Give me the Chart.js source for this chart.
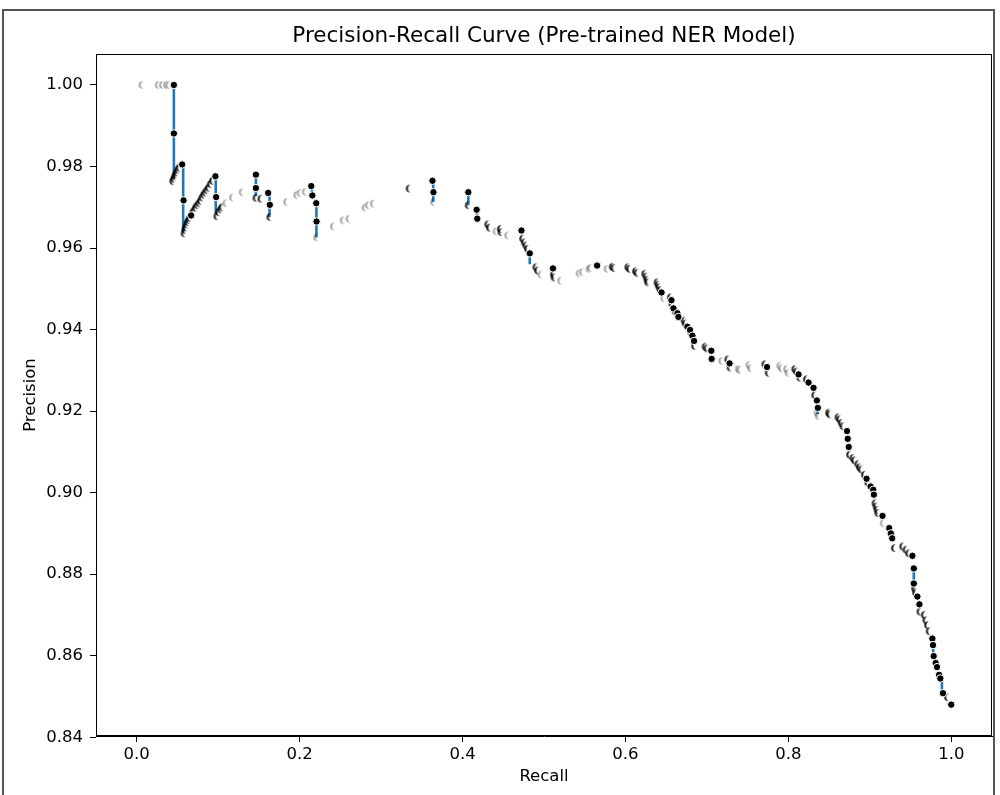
<!DOCTYPE html>
<html>
<head>
<meta charset="utf-8">
<script src="https://cdn.jsdelivr.net/npm/chart.js"></script>
<style>
  body { margin: 0; background: #fff; }
  #wrap { position: absolute; left: 0; top: 0; width: 1000px; height: 795px; }
  #frame { position: absolute; left: 2px; top: 9px; width: 993px; height: 800px; border: 2px solid #555; box-sizing: border-box; pointer-events: none; }
</style>
</head>
<body>
<div id="wrap">
  <canvas id="myChart" width="1000" height="795"></canvas>
  <div id="frame"></div>
</div>

<script>
// ticks
const recallTicks = [0.0, 0.2, 0.4, 0.6, 0.8, 1.0];
const precisionTicks = [0.84, 0.86, 0.88, 0.90, 0.92, 0.94, 0.96, 0.98, 1.00];

// fully visible points
const solidRecall = [0.0456, 0.0456, 0.0558, 0.0575, 0.0668, 0.0966, 0.0975, 0.1463, 0.1463, 0.1614,
  0.1634, 0.2143, 0.2156, 0.2204, 0.2208, 0.3631, 0.3643, 0.4071, 0.4173, 0.4181,
  0.4723, 0.4825, 0.5110, 0.5652, 0.6443, 0.6565, 0.6589, 0.6638, 0.6650, 0.6760,
  0.6793, 0.6822, 0.6842, 0.7054, 0.7058, 0.7278, 0.7738, 0.8125, 0.8248, 0.8309,
  0.8350, 0.8362, 0.8720, 0.8729, 0.8741, 0.8960, 0.9010, 0.9042, 0.9050, 0.9156,
  0.9238, 0.9258, 0.9275, 0.9523, 0.9540, 0.9540, 0.9584, 0.9609, 0.9768, 0.9776,
  0.9784, 0.9808, 0.9825, 0.9850, 0.9866, 0.9898, 1.0000];
const solidPrecision = [1.0000, 0.9881, 0.9805, 0.9717, 0.9680, 0.9776, 0.9725, 0.9780, 0.9747, 0.9735,
  0.9706, 0.9752, 0.9729, 0.9710, 0.9665, 0.9765, 0.9737, 0.9737, 0.9694, 0.9672,
  0.9643, 0.9587, 0.9550, 0.9557, 0.9491, 0.9472, 0.9452, 0.9440, 0.9431, 0.9407,
  0.9399, 0.9385, 0.9372, 0.9348, 0.9328, 0.9317, 0.9308, 0.9290, 0.9270, 0.9257,
  0.9226, 0.9208, 0.9151, 0.9132, 0.9112, 0.9034, 0.9015, 0.9007, 0.8995, 0.8943,
  0.8913, 0.8900, 0.8888, 0.8845, 0.8814, 0.8777, 0.8745, 0.8726, 0.8642, 0.8626,
  0.8599, 0.8582, 0.8572, 0.8553, 0.8544, 0.8508, 0.8480];

// points mostly hidden by the next marker (dark crescents)
const halfRecall = [0.0448, 0.0460, 0.0472, 0.0484, 0.0496, 0.0510, 0.0525,
  0.0587, 0.0597, 0.0607, 0.0618, 0.0630, 0.0643, 0.0655,
  0.0690, 0.0708, 0.0727, 0.0748, 0.0770, 0.0788, 0.0806, 0.0826, 0.0846, 0.0866, 0.0886, 0.0910, 0.0935,
  0.0990, 0.1010, 0.1035, 0.1052, 0.1470, 0.1530, 0.1640, 0.3350, 0.4075,
  0.4315, 0.4336, 0.4470, 0.4478, 0.4743, 0.4764, 0.4784, 0.4804, 0.4906, 0.4927,
  0.5122, 0.5130, 0.5844, 0.5864, 0.6035, 0.6055, 0.6129, 0.6149,
  0.6243, 0.6259, 0.6271, 0.6280, 0.6394, 0.6406, 0.6418, 0.6434,
  0.6557, 0.6577, 0.6618, 0.6727, 0.6740, 0.6809, 0.6854, 0.6984, 0.7005,
  0.7262, 0.7290, 0.7718, 0.7759, 0.8084, 0.8105, 0.8146, 0.8227, 0.8330,
  0.8500, 0.8513, 0.8615, 0.8635, 0.8655, 0.8676,
  0.8757, 0.8798, 0.8818, 0.8859, 0.8879, 0.8900, 0.8940, 0.8980,
  0.9070, 0.9083, 0.9095, 0.9104, 0.9307, 0.9409, 0.9450, 0.9483,
  0.9555, 0.9567, 0.9621, 0.9674, 0.9694, 0.9715, 0.9735, 0.9959];
const halfPrecision = [0.9764, 0.9770, 0.9776, 0.9781, 0.9786, 0.9792, 0.9797,
  0.9636, 0.9644, 0.9651, 0.9658, 0.9664, 0.9669, 0.9674,
  0.9686, 0.9692, 0.9699, 0.9705, 0.9710, 0.9716, 0.9724, 0.9731, 0.9736, 0.9742, 0.9748, 0.9757, 0.9765,
  0.9678, 0.9688, 0.9695, 0.9700, 0.9723, 0.9721, 0.9676, 0.9746, 0.9705,
  0.9658, 0.9650, 0.9647, 0.9639, 0.9623, 0.9614, 0.9606, 0.9598, 0.9553, 0.9545,
  0.9535, 0.9528, 0.9554, 0.9551, 0.9553, 0.9549, 0.9543, 0.9539,
  0.9537, 0.9530, 0.9522, 0.9516, 0.9516, 0.9510, 0.9504, 0.9497,
  0.9479, 0.9463, 0.9444, 0.9422, 0.9415, 0.9393, 0.9360, 0.9358, 0.9354,
  0.9327, 0.9307, 0.9315, 0.9294, 0.9303, 0.9297, 0.9282, 0.9278, 0.9239,
  0.9196, 0.9192, 0.9185, 0.9180, 0.9171, 0.9163,
  0.9093, 0.9085, 0.9079, 0.9070, 0.9062, 0.9057, 0.9044, 0.9025,
  0.8974, 0.8966, 0.8958, 0.8950, 0.8864, 0.8868, 0.8860, 0.8851,
  0.8765, 0.8755, 0.8708, 0.8700, 0.8687, 0.8675, 0.8660, 0.8498];

// points almost completely hidden (faint slivers)
const faintRecall = [0.007, 0.027, 0.032, 0.037, 0.040, 0.1100, 0.1180, 0.1300,
  0.1846, 0.1970, 0.2010, 0.2075, 0.2215, 0.2420, 0.2540, 0.2612, 0.2808, 0.2848, 0.2910,
  0.3650, 0.4417, 0.4560, 0.4968, 0.5210, 0.5436, 0.5477, 0.5558, 0.5578, 0.5780,
  0.6475, 0.7188, 0.7392, 0.7412, 0.7522, 0.7543, 0.7900, 0.7922, 0.7983, 0.8003,
  0.8360, 0.8372, 0.9170];
const faintPrecision = [1.000, 1.000, 1.000, 1.000, 1.000, 0.9710, 0.9724, 0.9737,
  0.9713, 0.9730, 0.9735, 0.9738, 0.9626, 0.9653, 0.9668, 0.9672, 0.9699, 0.9705, 0.9709,
  0.9713, 0.9641, 0.9631, 0.9535, 0.9520, 0.9538, 0.9541, 0.9549, 0.9551, 0.9549,
  0.9477, 0.9323, 0.9303, 0.9301, 0.9313, 0.9305, 0.9311, 0.9305, 0.9303, 0.9294,
  0.9196, 0.9188, 0.8925];

// vertical drops where the line shows
const stepRecall = [0.0456, 0.0570, 0.0970, 0.1463, 0.1630, 0.2150, 0.2206, 0.3640, 0.4071, 0.4178, 0.4825, 0.8360, 0.9540, 0.9778, 0.9885];
const stepTop    = [1.0000, 0.9805, 0.9776, 0.9780, 0.9735, 0.9752, 0.9712, 0.9765, 0.9737, 0.9694, 0.9587, 0.9208, 0.8814, 0.8640, 0.8544];
const stepBottom = [0.9770, 0.9640, 0.9685, 0.9727, 0.9676, 0.9729, 0.9626, 0.9713, 0.9705, 0.9672, 0.9560, 0.9192, 0.8765, 0.8600, 0.8508];

function pts(xs, ys) { return xs.map((x, i) => ({x: x, y: ys[i]})); }

const stepData = [];
stepRecall.forEach((r, i) => {
  stepData.push({x: r, y: stepTop[i]});
  stepData.push({x: r, y: stepBottom[i]});
  stepData.push({x: r, y: null});
});

// crescent marker: a black dot with its right part covered
function crescent(offset, alpha) {
  const c = document.createElement('canvas');
  c.width = 14; c.height = 14;
  const g = c.getContext('2d');
  g.globalAlpha = alpha;
  g.fillStyle = '#000';
  g.beginPath(); g.arc(7, 7, 3.8, 0, Math.PI * 2); g.fill();
  g.globalAlpha = 1;
  g.globalCompositeOperation = 'destination-out';
  g.beginPath(); g.arc(7 + offset, 7, 4.3, 0, Math.PI * 2); g.fill();
  return c;
}

const font = 'DejaVu Sans';

const frameBox = {
  id: 'frameBox',
  afterDatasetsDraw(chart) {
    const a = chart.chartArea, ctx = chart.ctx;
    ctx.save();
    ctx.strokeStyle = '#000';
    ctx.lineWidth = 1;
    ctx.strokeRect(Math.round(a.left) + 0.5, Math.round(a.top) + 0.5, Math.round(a.right - a.left) - 1, Math.round(a.bottom - a.top) - 1);
    ctx.restore();
  }
};

const config = {
  type: 'scatter',
  data: {
    datasets: [
      { data: stepData, showLine: true, spanGaps: false, borderColor: '#1f77b4', borderWidth: 2.6, pointRadius: 0, order: 4 },
      { data: pts(faintRecall, faintPrecision), pointStyle: crescent(2.6, 0.35), pointRadius: 7, order: 3 },
      { data: pts(halfRecall, halfPrecision), pointStyle: crescent(2.6, 0.85), pointRadius: 7, order: 2 },
      { data: pts(solidRecall, solidPrecision), pointRadius: 3.7, pointBackgroundColor: '#000', pointBorderColor: '#fff', pointBorderWidth: 1, order: 1 }
    ]
  },
  options: {
    responsive: false,
    animation: false,
    devicePixelRatio: 1,
    layout: { padding: { left: 0, right: 6, top: 0, bottom: 0 } },
    plugins: {
      legend: { display: false },
      tooltip: { enabled: false },
      title: {
        display: true, fullSize: false,
        text: 'Precision-Recall Curve (Pre-trained NER Model)',
        color: '#000', font: { family: font, size: 21.5, weight: 'normal', lineHeight: 1.2 },
        padding: { top: 24, bottom: 4.2 }
      }
    },
    scales: {
      x: {
        type: 'linear', min: -0.05, max: 1.05,
        afterBuildTicks: s => { s.ticks = recallTicks.map(v => ({value: v})); },
        afterFit: s => { s.height = 59; },
        grid: { drawOnChartArea: false, drawTicks: true, tickLength: 6, tickColor: '#000' },
        border: { display: true, color: '#000', width: 1 },
        ticks: { color: '#000', font: { family: font, size: 16.5 }, padding: 3, callback: v => v.toFixed(1) },
        title: { display: true, text: 'Recall', color: '#000', font: { family: font, size: 16.5 }, padding: { top: 0, bottom: 8 } }
      },
      y: {
        type: 'linear', min: 0.8403, max: 1.0076,
        afterBuildTicks: s => { s.ticks = precisionTicks.map(v => ({value: v})); },
        afterFit: s => { s.width = 96; },
        grid: { drawOnChartArea: false, drawTicks: true, tickLength: 6, tickColor: '#000' },
        border: { display: true, color: '#000', width: 1 },
        ticks: { color: '#000', font: { family: font, size: 16.5 }, padding: 7, callback: v => v.toFixed(2) },
        title: { display: true, text: 'Precision', color: '#000', font: { family: font, size: 16.5 }, padding: { top: 21, bottom: 0 } }
      }
    }
  },
  plugins: [frameBox]
};

const myChart = new Chart(document.getElementById('myChart'), config);
</script>
</body>
</html>
